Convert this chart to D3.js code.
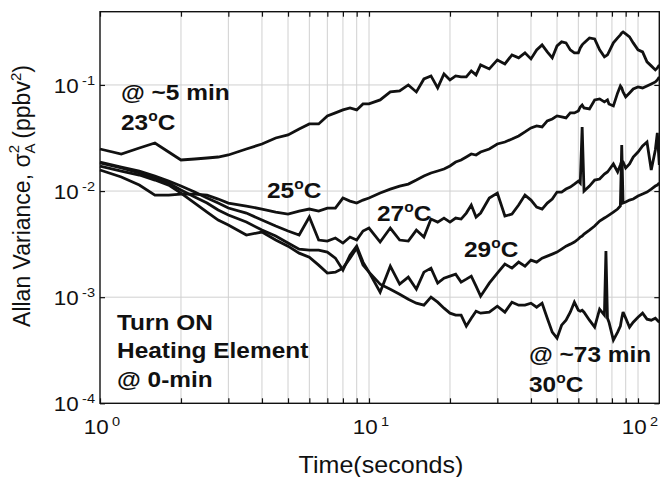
<!DOCTYPE html>
<html>
<head>
<meta charset="utf-8">
<script src="https://cdn.jsdelivr.net/npm/d3@7/dist/d3.min.js"></script>
<style>
  body { margin: 0; background: #fff; }
  svg { display: block; }
  text { font-family: "Liberation Sans", Arial, Helvetica, sans-serif; fill: #111; }
</style>
</head>
<body>
<svg id="chart" width="660" height="477"></svg>
<script>
// Averaging time (s)
const tau = [1, 1.2, 1.4, 1.6, 1.8, 2, 2.25, 2.5, 2.75, 3, 3.5, 4, 4.5, 5, 5.5, 6, 6.5, 7, 7.5, 8, 8.5, 9, 9.5,
  10, 11, 12, 13, 14, 15, 16, 17, 18, 19, 20, 21, 22, 23, 24, 25, 26,
  28, 30, 32, 34, 36, 38, 40, 42, 44, 46, 48, 50, 52, 54, 56, 58, 60,
  61, 62, 63, 66, 69, 72, 75, 76, 77, 78, 81, 84, 86, 87, 88, 90, 93, 96,
  100, 104, 108, 112, 116, 118, 120];

// Allan variance (ppbv^2), one run per element temperature
const var23 = [2.491e-2, 2.235e-2, 2.545e-2, 2.837e-2, 2.334e-2, 1.962e-2, 2.005e-2, 2.049e-2, 2.094e-2, 2.187e-2, 2.491e-2, 2.776e-2, 3.162e-2, 3.381e-2, 3.850e-2, 4.291e-2, 4.291e-2, 5.104e-2, 5.448e-2, 5.814e-2, 6.072e-2, 5.814e-2, 6.622e-2,
  6.622e-2, 7.223e-2, 8.591e-2, 8.780e-2, 0.1, 8.591e-2, 0.1139, 0.1216, 9.370e-2, 0.1270, 0.1115, 0.1216, 0.1190, 0.1190, 0.1356, 0.1243, 0.1545,
  0.1416, 0.1722, 0.1579, 0.1920, 0.1799, 0.2005, 0.1760, 0.2140, 0.2385, 0.2049, 0.1799, 0.2334, 0.2545, 0.2491, 0.2140, 0.2005, 0.2005,
  0.2235, 0.2385, 0.2491, 0.2776, 0.2717, 0.2140, 0.1838, 0.1879, 0.1920, 0.2049, 0.2491, 0.2776, 0.2963, 0.3094, 0.3162, 0.3028, 0.2837, 0.2491,
  0.2140, 0.2049, 0.1649, 0.1512, 0.1386, 0.1447, 0.1545];

const var25 = [1.579e-2, 1.356e-2, 1.139e-2, 9.169e-3, 9.169e-3, 9.370e-3, 9.370e-3, 9.169e-3, 8.407e-3, 7.708e-3, 7.223e-3, 6.768e-3, 6.341e-3, 6.072e-3, 6.480e-3, 6.768e-3, 6.480e-3, 6.916e-3, 6.916e-3, 8.591e-3, 8.050e-3, 7.708e-3, 8.227e-3,
  8.591e-3, 9.575e-3, 1.044e-2, 1.115e-2, 1.164e-2, 1.270e-2, 1.386e-2, 1.479e-2, 1.545e-2, 1.614e-2, 1.722e-2, 1.879e-2, 1.962e-2, 2.094e-2, 2.235e-2, 2.187e-2, 2.334e-2,
  2.491e-2, 2.776e-2, 2.899e-2, 3.094e-2, 3.308e-2, 3.608e-2, 3.935e-2, 4.109e-2, 4.021e-2, 4.580e-2, 4.783e-2, 5.104e-2, 4.995e-2, 4.888e-2, 5.448e-2, 5.448e-2, 5.689e-2,
  6.205e-2, 6.480e-2, 6.072e-2, 5.941e-2, 7.223e-2, 7.381e-2, 6.916e-2, 7.068e-2, 7.223e-2, 6.622e-2, 6.341e-2, 8.407e-2, 9.785e-2, 9.370e-2, 8.591e-2, 7.708e-2, 8.407e-2, 9.169e-2,
  9.575e-2, 9.370e-2, 9.785e-2, 0.1022, 0.1067, 0.1115, 0.1190];

const var27 = [1.879e-2, 1.685e-2, 1.545e-2, 1.386e-2, 1.243e-2, 1.115e-2, 9.785e-3, 8.591e-3, 7.708e-3, 6.916e-3, 6.205e-3, 5.331e-3, 4.680e-3, 4.199e-3, 3.850e-3, 5.689e-3, 3.455e-3, 3.381e-3, 3.608e-3, 3.237e-3, 3.687e-3, 3.455e-3, 4.199e-3,
  4.482e-3, 3.308e-3, 4.482e-3, 3.455e-3, 3.381e-3, 4.291e-3, 3.687e-3, 5.448e-3, 5.104e-3, 5.567e-3, 5.104e-3, 5.567e-3, 5.448e-3, 6.205e-3, 7.381e-3, 5.689e-3, 6.205e-3,
  8.591e-3, 9.575e-3, 5.814e-3, 6.072e-3, 7.381e-3, 9.169e-3, 8.227e-3, 7.068e-3, 6.768e-3, 7.708e-3, 8.407e-3, 9.785e-3, 9.785e-3, 1.044e-2, 1.091e-2, 1.164e-2, 1.243e-2,
  1.190e-2, 4.021e-2, 1.0e-2, 1.115e-2, 1.270e-2, 1.298e-2, 1.447e-2, 1.479e-2, 1.512e-2, 1.579e-2, 1.799e-2, 1.512e-2, 1.760e-2, 1.920e-2, 1.879e-2, 1.649e-2, 1.799e-2, 2.094e-2,
  2.334e-2, 2.658e-2, 2.899e-2, 1.579e-2, 2.437e-2, 3.530e-2, 1.760e-2];

const var29 = [1.838e-2, 1.649e-2, 1.479e-2, 1.327e-2, 1.190e-2, 1.022e-2, 8.780e-3, 7.708e-3, 6.622e-3, 5.941e-3, 5.104e-3, 4.291e-3, 3.768e-3, 3.237e-3, 2.837e-3, 2.776e-3, 2.776e-3, 2.658e-3, 2.334e-3, 1.799e-3, 2.491e-3, 3.028e-3, 2.140e-3,
  1.722e-3, 1.115e-3, 1.962e-3, 1.327e-3, 1.545e-3, 1.190e-3, 1.722e-3, 1.879e-3, 1.356e-3, 1.512e-3, 1.579e-3, 1.649e-3, 1.386e-3, 1.479e-3, 1.579e-3, 1.270e-3, 1.022e-3,
  1.356e-3, 1.685e-3, 2.049e-3, 1.879e-3, 2.140e-3, 1.962e-3, 2.235e-3, 2.140e-3, 2.334e-3, 2.437e-3, 2.545e-3, 2.658e-3, 2.837e-3, 3.028e-3, 3.162e-3, 3.308e-3, 3.530e-3,
  3.687e-3, 3.768e-3, 3.935e-3, 4.291e-3, 4.680e-3, 5.216e-3, 5.567e-3, 5.689e-3, 5.814e-3, 5.941e-3, 6.341e-3, 6.768e-3, 7.223e-3, 2.717e-2, 7.708e-3, 7.877e-3, 8.227e-3, 8.407e-3,
  8.972e-3, 9.370e-3, 9.785e-3, 1.044e-2, 1.115e-2, 1.139e-2, 1.190e-2];

const var30 = [1.722e-2, 1.545e-2, 1.416e-2, 1.270e-2, 1.139e-2, 9.575e-3, 7.708e-3, 6.341e-3, 5.331e-3, 4.783e-3, 3.850e-3, 4.109e-3, 3.455e-3, 3.028e-3, 2.601e-3, 2.385e-3, 2.005e-3, 1.685e-3, 1.722e-3, 1.879e-3, 2.334e-3, 2.899e-3, 2.005e-3,
  1.722e-3, 1.327e-3, 1.190e-3, 1.067e-3, 9.575e-4, 8.780e-4, 8.407e-4, 1.0e-3, 8.972e-4, 7.877e-4, 7.068e-4, 6.768e-4, 6.768e-4, 5.331e-4, 6.341e-4, 7.381e-4, 7.068e-4,
  7.223e-4, 8.227e-4, 7.223e-4, 8.972e-4, 8.407e-4, 8.407e-4, 8.780e-4, 8.050e-4, 8.780e-4, 6.341e-4, 4.680e-4, 4.109e-4, 5.448e-4, 6.072e-4, 7.223e-4, 8.972e-4, 7.543e-4,
  7.381e-4, 7.543e-4, 7.223e-4, 6.072e-4, 5.216e-4, 7.708e-4, 6.768e-4, 2.717e-3, 6.341e-4, 5.814e-4, 3.935e-4, 4.680e-4, 5.331e-4, 6.341e-4, 7.223e-4, 6.341e-4, 5.216e-4, 5.814e-4,
  6.480e-4, 7.068e-4, 6.205e-4, 6.072e-4, 6.341e-4, 6.072e-4, 5.814e-4];

const seriesList = [var23, var25, var27, var29, var30];

// Axis ticks
const xLabelTicks = [1, 10, 100];
const xLabelExp = ["0", "1", "2"];
const xGridTicks = [2, 3, 4, 5, 6, 7, 8, 9, 10, 20, 30, 40, 50, 60, 70, 80, 90, 100];
const yLabelTicks = [1e-4, 1e-3, 1e-2, 1e-1];
const yLabelExp = ["-4", "-3", "-2", "-1"];
const yGridTicks = [1e-3, 1e-2, 1e-1];

const svg = d3.select("#chart");
const L = 100, R = 659.3, T = 11.7, B = 403.3;

const x = d3.scaleLog().domain([1, 120]).range([L, R]);
const y = d3.scaleLog().domain([1e-4, 0.49]).range([B, T]);

// grid
const grid = svg.append("g").attr("stroke", "#d0d0d0").attr("stroke-width", 1);
grid.selectAll("line.gx").data(xGridTicks).join("line")
  .attr("x1", d => x(d)).attr("x2", d => x(d)).attr("y1", T).attr("y2", B);
grid.selectAll("line.gy").data(yGridTicks).join("line")
  .attr("y1", d => y(d)).attr("y2", d => y(d)).attr("x1", L).attr("x2", R);

// inward ticks on all four sides
const tickLen = 5;
const xTickVals = [1].concat(xGridTicks);
function styleAxis(g) {
  g.select(".domain").remove();
  g.selectAll(".tick line").attr("stroke", "#111").attr("stroke-width", 1.2);
  g.selectAll(".tick text").remove();
}
svg.append("g").attr("transform", `translate(0,${B})`)
  .call(d3.axisBottom(x).tickValues(xTickVals).tickSize(-tickLen).tickFormat(() => "")).call(styleAxis);
svg.append("g").attr("transform", `translate(0,${T})`)
  .call(d3.axisTop(x).tickValues(xTickVals).tickSize(-tickLen).tickFormat(() => "")).call(styleAxis);
svg.append("g").attr("transform", `translate(${L},0)`)
  .call(d3.axisLeft(y).tickValues(yLabelTicks).tickSize(-tickLen).tickFormat(() => "")).call(styleAxis);
svg.append("g").attr("transform", `translate(${R},0)`)
  .call(d3.axisRight(y).tickValues(yLabelTicks).tickSize(-tickLen).tickFormat(() => "")).call(styleAxis);

// curves
const line = d3.line().x((d, i) => x(tau[i])).y(d => y(d));
svg.append("g").selectAll("path").data(seriesList).join("path")
  .attr("d", line)
  .attr("fill", "none")
  .attr("stroke", "#111")
  .attr("stroke-width", 2.8)
  .attr("stroke-linejoin", "miter")
  .attr("stroke-miterlimit", 3);

// frame
svg.append("rect").attr("x", L).attr("y", T).attr("width", R - L).attr("height", B - T)
  .attr("fill", "none").attr("stroke", "#111").attr("stroke-width", 1.4);

// text helper: places text at (px, py) with a slight horizontal stretch
function stretched(px, py, sx) {
  return svg.append("text").attr("transform", `translate(${px},${py}) scale(${sx},1)`);
}

// tick labels
const tickFont = 20, supFont = 13;
yLabelTicks.forEach((v, i) => {
  const t = stretched(L - 5, y(v) + 8, 1.12).attr("text-anchor", "end").attr("font-size", tickFont);
  t.append("tspan").text("10");
  t.append("tspan").attr("font-size", supFont).attr("dx", 3).attr("dy", -8).text(yLabelExp[i]);
});
xLabelTicks.forEach((v, i) => {
  const t = stretched(x(v) + 2, 434, 1.12).attr("text-anchor", "middle").attr("font-size", tickFont);
  t.append("tspan").text("10");
  t.append("tspan").attr("font-size", supFont).attr("dx", 3).attr("dy", -8).text(xLabelExp[i]);
});

// axis titles
stretched(381, 473, 1.09).attr("text-anchor", "middle")
  .attr("font-size", 23).text("Time(seconds)");

const yt = svg.append("text").attr("transform", "translate(30,196) rotate(-90)")
  .attr("text-anchor", "middle").attr("font-size", 23);
yt.append("tspan").text("Allan Variance, σ");
yt.append("tspan").attr("font-size", 15).attr("dy", 5).text("A");
yt.append("tspan").attr("font-size", 15).attr("dx", -10).attr("dy", -16).text("2");
yt.append("tspan").attr("dy", 11).text(" (ppbv");
yt.append("tspan").attr("font-size", 15).attr("dy", -9).text("2");
yt.append("tspan").attr("dy", 9).text(")");

// annotations
const noteScale = 1.11;
function note(px, py, str) {
  stretched(px, py, noteScale).attr("font-size", 22).attr("font-weight", "bold").text(str);
}
function tempNote(px, py, deg) {
  const t = stretched(px, py, noteScale).attr("font-size", 22).attr("font-weight", "bold");
  t.append("tspan").text(deg);
  t.append("tspan").attr("font-size", 14).attr("dy", -9).text("o");
  t.append("tspan").attr("dy", 9).text("C");
}
note(121, 100, "@ ~5 min");
tempNote(121, 130, "23");
tempNote(267, 198, "25");
tempNote(377, 221, "27");
tempNote(464, 257, "29");
note(117, 330, "Turn ON");
note(117, 358, "Heating Element");
note(117, 387, "@ 0-min");
note(529, 362, "@ ~73 min");
tempNote(529, 392, "30");
</script>
</body>
</html>
